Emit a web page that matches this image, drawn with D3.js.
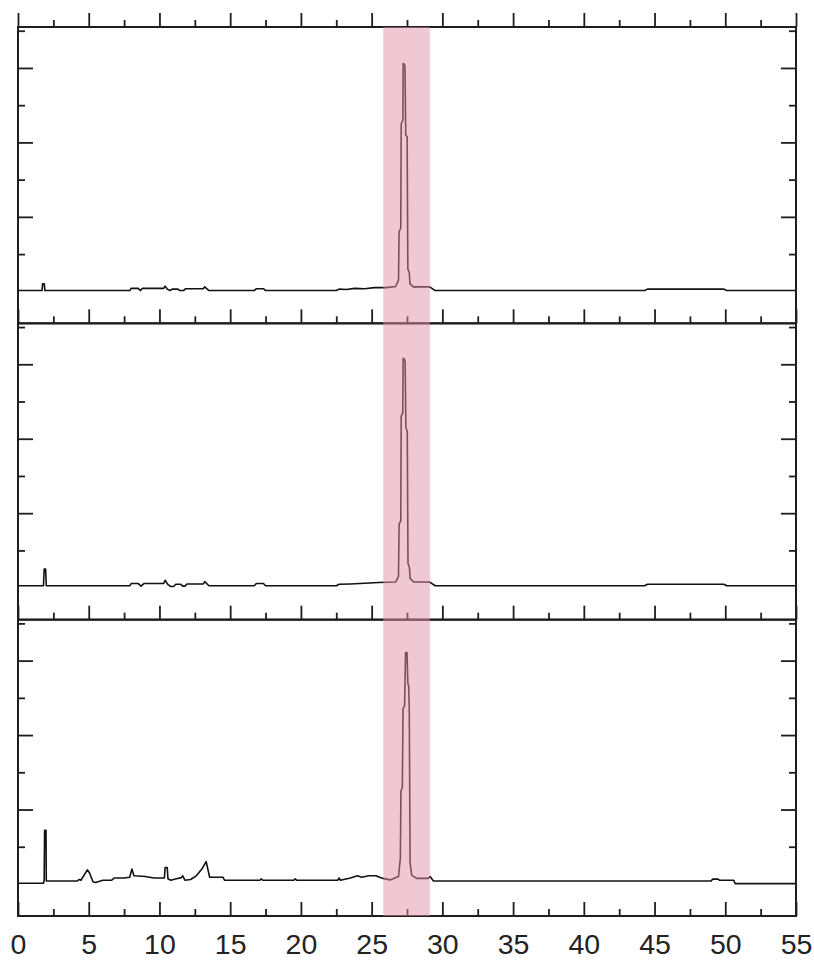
<!DOCTYPE html>
<html>
<head>
<meta charset="utf-8">
<script src="https://cdn.jsdelivr.net/npm/d3@7"></script>
<style>
  body { margin: 0; background: #fff; }
  .tick text { font-family: "Liberation Sans", Arial, sans-serif; }
</style>
</head>
<body>
<div id="chart"></div>
<script>
// three stacked traces: [time, signal]
var traceTop = [
  [0,0.02],[1.7,0.02],[1.74,0.2],[1.86,0.2],[1.9,0.02],
  [7.9,0.02],[8.0,0.08],[8.5,0.08],[8.65,0.02],[8.8,0.08],[10.3,0.08],[10.4,0.14],[10.55,0.06],
  [10.75,0.02],[10.9,0.06],[11.3,0.06],[11.45,0.02],[11.7,0.02],[11.85,0.07],[13.1,0.07],[13.2,0.12],[13.5,0.02],
  [16.7,0.02],[16.85,0.07],[17.35,0.07],[17.5,0.02],
  [22.5,0.02],[22.7,0.06],[23.2,0.05],[23.8,0.08],[24.5,0.07],[25.2,0.1],[26.0,0.1],[26.7,0.13],
  [26.9,0.3],[26.94,1.6],[27.06,1.7],[27.09,4.5],[27.21,4.6],[27.23,6.12],[27.31,6.1],[27.36,6.03],
  [27.41,4.2],[27.51,4.15],[27.56,0.6],[27.66,0.5],[27.71,0.2],[27.95,0.12],[29.1,0.12],[29.5,0.02],
  [44.3,0.02],[44.5,0.06],[49.9,0.06],[50.1,0.02],[55,0.02]
];
var traceMid = [
  [0,0.05],[1.8,0.05],[1.85,0.5],[1.95,0.5],[2.0,0.05],
  [7.9,0.05],[8.0,0.11],[8.5,0.11],[8.7,0.04],[8.9,0.11],[10.3,0.11],[10.4,0.2],[10.6,0.08],[10.8,0.03],
  [11.0,0.03],[11.15,0.09],[11.5,0.09],[11.65,0.04],[11.8,0.04],[11.95,0.1],[13.1,0.1],[13.2,0.16],[13.5,0.05],
  [16.7,0.05],[16.85,0.11],[17.35,0.11],[17.5,0.05],
  [22.5,0.05],[22.7,0.09],[23.5,0.1],[24.5,0.12],[25.5,0.14],[26.7,0.15],
  [26.9,0.3],[26.94,1.7],[27.06,1.8],[27.09,4.6],[27.2,4.7],[27.23,6.16],[27.32,6.14],[27.37,6.05],
  [27.42,4.3],[27.52,4.2],[27.57,0.65],[27.67,0.55],[27.72,0.25],[27.97,0.15],[29.1,0.15],[29.5,0.05],
  [44.3,0.05],[44.5,0.09],[49.9,0.09],[50.1,0.05],[55,0.05]
];
var traceBottom = [
  [0,0.02],[1.8,0.02],[1.85,0.1],[1.88,1.44],[1.98,1.44],[2.0,0.08],[4.2,0.08],[4.3,0.12],[4.45,0.1],
  [4.9,0.38],[5.05,0.3],[5.3,0.06],[5.5,0.04],[6.0,0.1],[6.6,0.1],[6.8,0.16],[7.5,0.16],[7.9,0.18],
  [8.05,0.4],[8.2,0.22],[9.0,0.2],[9.6,0.16],[10.35,0.16],[10.4,0.44],[10.55,0.44],[10.6,0.14],[10.8,0.1],
  [11.2,0.14],[11.55,0.17],[11.65,0.22],[11.8,0.1],[12.2,0.12],[12.6,0.22],[13.0,0.4],[13.3,0.6],
  [13.55,0.18],[14.5,0.18],[14.6,0.1],[17.1,0.1],[17.2,0.14],[17.3,0.1],[19.5,0.1],[19.6,0.14],[19.7,0.1],
  [22.6,0.1],[22.7,0.16],[22.8,0.1],[23.5,0.16],[24.0,0.22],[24.3,0.18],[24.8,0.22],[25.3,0.22],
  [25.8,0.15],[26.3,0.11],[26.9,0.2],[27.03,0.69],[27.07,2.5],[27.17,2.6],[27.22,4.7],[27.33,4.8],
  [27.4,6.22],[27.5,6.22],[27.56,5.4],[27.62,5.3],[27.66,4.7],[27.72,0.56],[27.83,0.24],[28.18,0.15],
  [29.0,0.15],[29.13,0.2],[29.37,0.08],[49.0,0.08],[49.1,0.13],[49.5,0.13],[49.6,0.1],[50.6,0.1],
  [50.7,0.01],[55,0.01]
];
var highlight = [25.82, 29.12];
var xMajor = [0, 5, 10, 15, 20, 25, 30, 35, 40, 45, 50, 55];
var xMinor = [2.5, 7.5, 12.5, 17.5, 22.5, 27.5, 32.5, 37.5, 42.5, 47.5, 52.5];
var yMajor = [2, 4, 6];
var yMinor = [1, 3, 5, 7];

var W = 814, H = 960;
var plotL = 18, plotR = 796, plotT = 27, plotB = 916;
var panelH = (plotB - plotT) / 3;
var ink = "#1e1e1e";

var svg = d3.select("#chart").append("svg")
    .attr("width", W)
    .attr("height", H);

var x = d3.scaleLinear().domain([0, 55]).range([plotL, plotR]);

function styleAxis(g) {
  g.select(".domain").remove();
  g.selectAll(".tick line").attr("stroke", ink).attr("stroke-width", 1.8);
}

[traceTop, traceMid, traceBottom].forEach(function(tr, i) {
  var y0 = plotT + i * panelH, y1 = y0 + panelH;
  var y = d3.scaleLinear().domain([-0.86, 7.1]).range([y1, y0]);

  var line = d3.line()
      .x(function(d) { return x(d[0]); })
      .y(function(d) { return y(d[1]); });

  svg.append("path")
      .datum(tr)
      .attr("d", line)
      .attr("fill", "none")
      .attr("stroke", "#111")
      .attr("stroke-width", 1.6)
      .attr("stroke-linejoin", "round");

  // y ticks, inside on both sides
  svg.append("g").attr("transform", "translate(" + plotL + ",0)")
      .call(d3.axisRight(y).tickValues(yMajor).tickSize(15).tickFormat("")).call(styleAxis);
  svg.append("g").attr("transform", "translate(" + plotL + ",0)")
      .call(d3.axisRight(y).tickValues(yMinor).tickSize(7).tickFormat("")).call(styleAxis);
  svg.append("g").attr("transform", "translate(" + plotR + ",0)")
      .call(d3.axisLeft(y).tickValues(yMajor).tickSize(15).tickFormat("")).call(styleAxis);
  svg.append("g").attr("transform", "translate(" + plotR + ",0)")
      .call(d3.axisLeft(y).tickValues(yMinor).tickSize(7).tickFormat("")).call(styleAxis);

  svg.append("rect")
      .attr("x", plotL).attr("y", y0)
      .attr("width", plotR - plotL).attr("height", panelH)
      .attr("fill", "none")
      .attr("stroke", ink)
      .attr("stroke-width", 2);
});

// x ticks pointing up at every panel edge
for (var k = 0; k <= 3; k++) {
  var yy = plotT + k * panelH;
  svg.append("g").attr("transform", "translate(0," + yy + ")")
      .call(d3.axisTop(x).tickValues(xMajor).tickSize(14).tickFormat("")).call(styleAxis);
  svg.append("g").attr("transform", "translate(0," + yy + ")")
      .call(d3.axisTop(x).tickValues(xMinor).tickSize(7).tickFormat("")).call(styleAxis);
}

// tick labels
var lab = svg.append("g").attr("transform", "translate(0," + plotB + ")")
    .call(d3.axisBottom(x).tickValues(xMajor).tickSize(0).tickPadding(18));
lab.select(".domain").remove();
lab.selectAll("text").attr("font-size", 28.5).attr("fill", "#222");

// highlighted window, laid over everything
svg.append("rect")
    .attr("x", x(highlight[0]))
    .attr("y", plotT)
    .attr("width", x(highlight[1]) - x(highlight[0]))
    .attr("height", plotB - plotT)
    .attr("fill", "rgb(225,145,170)")
    .attr("opacity", 0.5);
</script>
</body>
</html>
